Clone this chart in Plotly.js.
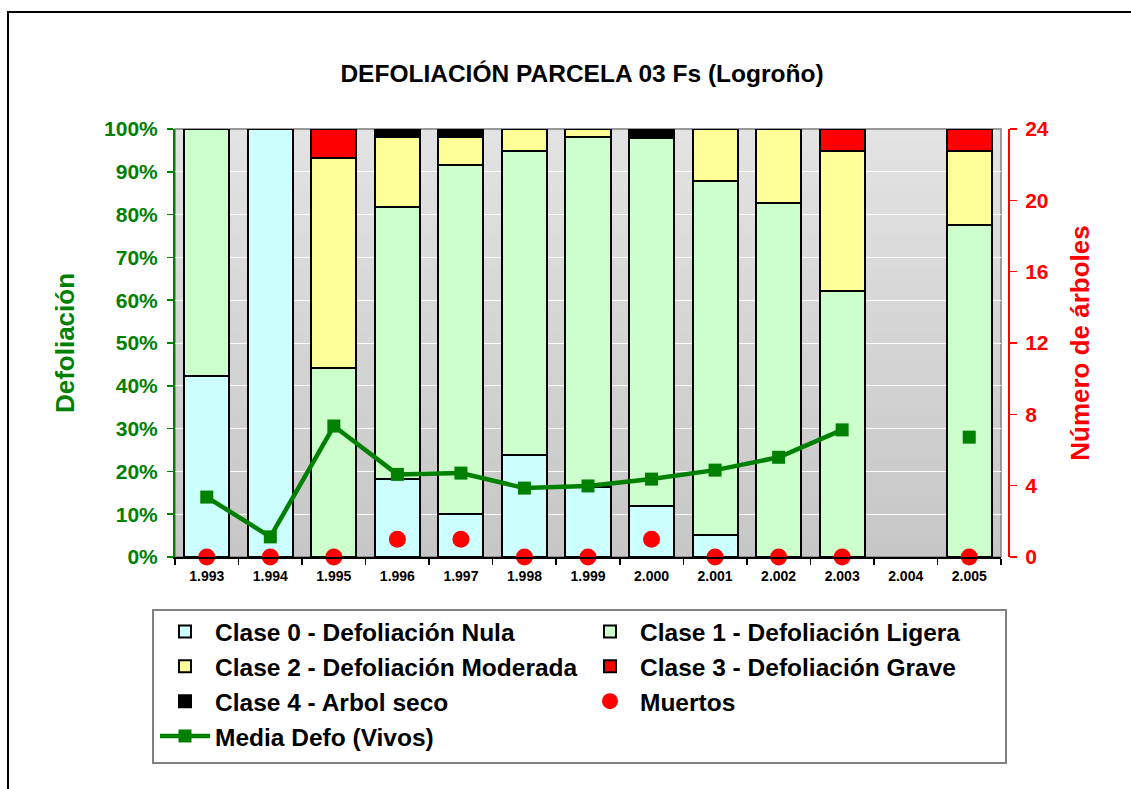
<!DOCTYPE html>
<html>
<head>
<meta charset="utf-8">
<script src="https://cdn.plot.ly/plotly-3.0.1.min.js"></script>
<style>html,body{margin:0;padding:0;background:#fff;}#chart{width:1131px;height:789px;}</style>
</head>
<body>
<div id="chart"></div>
<script>
// ---- data ----
const years = ["1.993","1.994","1.995","1.996","1.997","1.998","1.999","2.000","2.001","2.002","2.003","2.004","2.005"];
const clase0 = [42.3, 100, 0, 18.2, 10.0, 23.8, 16.4, 11.9, 5.1, 0, 0, null, 0];
const clase1 = [57.7, 0, 44.2, 63.6, 81.7, 71.1, 81.8, 86.1, 82.8, 82.7, 62.1, null, 77.6];
const clase2 = [0, 0, 49.1, 16.4, 6.5, 5.1, 1.8, 0, 12.1, 17.3, 32.8, null, 17.3];
const clase3 = [0, 0, 6.7, 0, 0, 0, 0, 0, 0, 0, 5.1, null, 5.1];
const clase4 = [0, 0, 0, 1.8, 1.8, 0, 0, 2.0, 0, 0, 0, null, 0];
const muertos = [0, 0, 0, 1, 1, 0, 0, 1, 0, 0, 0, null, 0];
const mediaDefo = [14.0, 4.7, 30.6, 19.3, 19.6, 16.1, 16.6, 18.2, 20.3, 23.3, 29.7, null, 28.0];
const yTicks = [0,10,20,30,40,50,60,70,80,90,100];
const y2Ticks = [0,4,8,12,16,20,24];

const FONT = 'Arial, "Liberation Sans", sans-serif';
const ML = 175, MT = 129, PW = 834, PH = 428;
const px = v => (v - ML) / PW;
const py = v => (MT + PH - v) / PH;
const xDomEnd = (1001 - ML) / PW;

function barTrace(name, vals, color) {
  return {type:'bar', name:name, x:years, y:vals,
    marker:{color:color, line:{color:'#000000', width:2}}, hoverinfo:'y'};
}
const traces = [
  barTrace('Clase 0 - Defoliación Nula', clase0, '#CCFFFF'),
  barTrace('Clase 1 - Defoliación Ligera', clase1, '#CCFFCC'),
  barTrace('Clase 2 - Defoliación Moderada', clase2, '#FFFF99'),
  barTrace('Clase 3 - Defoliación Grave', clase3, '#FF0000'),
  barTrace('Clase 4 - Arbol seco', clase4, '#000000'),
  {type:'scatter', mode:'markers', name:'Muertos', x:years, y:muertos, yaxis:'y2',
   marker:{color:'#FF0000', size:17, symbol:'circle'}, cliponaxis:false},
  {type:'scatter', mode:'lines+markers', name:'Media Defo (Vivos)', x:years, y:mediaDefo,
   line:{color:'#008000', width:4.5}, marker:{color:'#008000', size:13, symbol:'square'},
   connectgaps:false, cliponaxis:false}
];

// gradient background bands for the plot area
const shapes = [];
const N = 40;
const cTop = [227,227,227], cBot = [198,198,198];
for (let i = 0; i < N; i++) {
  const t = (i + 0.5) / N;
  const c = cBot.map((b, k) => Math.round(b + (cTop[k] - b) * t));
  shapes.push({type:'rect', xref:'paper', yref:'paper', x0:0, x1:xDomEnd, y0:i/N, y1:(i+1)/N + 0.002,
    fillcolor:`rgb(${c[0]},${c[1]},${c[2]})`, line:{width:0}, layer:'below'});
}
shapes.push({type:'rect', xref:'paper', yref:'paper', x0:0, x1:xDomEnd, y0:0, y1:1,
  line:{color:'#808080', width:1.5}, layer:'below'});
// outer chart frame
shapes.push({type:'rect', xref:'paper', yref:'paper', x0:px(8), x1:px(1200), y0:py(850), y1:py(12),
  line:{color:'#000000', width:2}, fillcolor:'rgba(0,0,0,0)'});
// legend box
shapes.push({type:'rect', xref:'paper', yref:'paper', x0:px(153), x1:px(1006), y0:py(763), y1:py(610),
  line:{color:'#808080', width:2}, fillcolor:'rgba(0,0,0,0)'});

const layout = {
  width:1131, height:789,
  margin:{l:ML, r:1131-ML-PW, t:MT, b:789-MT-PH},
  paper_bgcolor:'#ffffff', plot_bgcolor:'rgba(0,0,0,0)',
  font:{family:FONT, color:'#000000'},
  title:{text:'<b>DEFOLIACIÓN PARCELA 03 Fs (Logroño)</b>', font:{family:FONT, size:24.5, color:'#000000'},
    x:582/1131, xanchor:'center', xref:'container', y:1-73/789, yanchor:'middle', yref:'container'},
  barmode:'stack', bargap:0.29,
  showlegend:true,
  legend:{orientation:'h', x:px(155), xanchor:'left', y:py(609), yanchor:'top',
    font:{family:FONT, size:24.5, color:'#000000', weight:'bold'},
    itemwidth:50, entrywidth:360, entrywidthmode:'pixels', bgcolor:'rgba(0,0,0,0)', borderwidth:0,
    traceorder:'normal'},
  xaxis:{type:'category', range:[-0.5, 12.5], domain:[0, xDomEnd], showline:true, linecolor:'#000000', linewidth:2,
    ticks:'outside', tickson:'boundaries', ticklen:6, tickcolor:'#000000', tickwidth:1.5, ticklabelstandoff:5,
    tickfont:{family:FONT, size:14, color:'#000000', weight:'bold'}, showgrid:false, zeroline:false, fixedrange:true},
  yaxis:{range:[0,100], tickvals:yTicks, ticktext:yTicks.map(v => v + '%'),
    showline:true, linecolor:'#008000', linewidth:2, ticks:'outside', ticklen:6, tickcolor:'#008000', tickwidth:1.5,
    ticklabelstandoff:5,
    tickfont:{family:FONT, size:21, color:'#008000', weight:'bold'},
    showgrid:true, gridcolor:'#ffffff', gridwidth:1, zeroline:false,
    title:{text:'Defoliación', font:{family:FONT, size:26, color:'#008000', weight:'bold'}, standoff:22}},
  yaxis2:{range:[0,24], tickvals:y2Ticks, overlaying:'y', side:'right', anchor:'free', position:1,
    showline:true, linecolor:'#FF0000', linewidth:2, ticks:'outside', ticklen:7, tickcolor:'#FF0000', tickwidth:1.5,
    ticklabelstandoff:4,
    tickfont:{family:FONT, size:21, color:'#FF0000', weight:'bold'}, showgrid:false, zeroline:false,
    title:{text:'Número de árboles', font:{family:FONT, size:26, color:'#FF0000', weight:'bold'}, standoff:22}},
  shapes:shapes
};

Plotly.newPlot('chart', traces, layout, {displayModeBar:false, staticPlot:true});
</script>
</body>
</html>
